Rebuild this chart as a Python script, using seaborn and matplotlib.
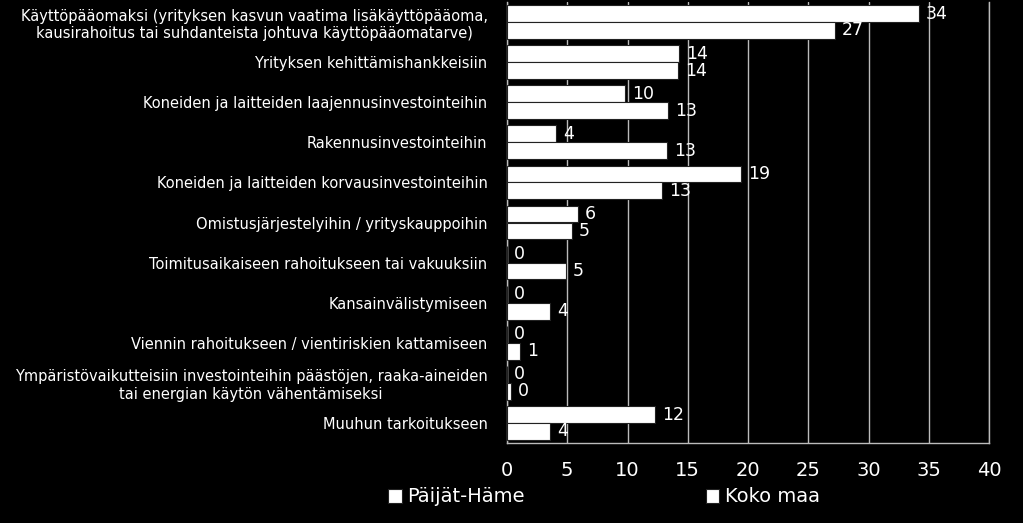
import matplotlib
matplotlib.use("Agg")
import matplotlib.pyplot as plt
import seaborn as sns
import pandas as pd

categories = [
    "Käyttöpääomaksi (yrityksen kasvun vaatima lisäkäyttöpääoma,\nkausirahoitus tai suhdanteista johtuva käyttöpääomatarve)",
    "Yrityksen kehittämishankkeisiin",
    "Koneiden ja laitteiden laajennusinvestointeihin",
    "Rakennusinvestointeihin",
    "Koneiden ja laitteiden korvausinvestointeihin",
    "Omistusjärjestelyihin / yrityskauppoihin",
    "Toimitusaikaiseen rahoitukseen tai vakuuksiin",
    "Kansainvälistymiseen",
    "Viennin rahoitukseen / vientiriskien kattamiseen",
    "Ympäristövaikutteisiin investointeihin päästöjen, raaka-aineiden\ntai energian käytön vähentämiseksi",
    "Muuhun tarkoitukseen",
]
series_names = ["Päijät-Häme", "Koko maa"]
paijat_hame = [34.2, 14.3, 9.8, 4.1, 19.4, 5.9, 0.0, 0.0, 0.0, 0.0, 12.3]
koko_maa = [27.2, 14.2, 13.4, 13.3, 12.9, 5.4, 4.9, 3.6, 1.1, 0.3, 3.6]
xticks = [0, 5, 10, 15, 20, 25, 30, 35, 40]

df = pd.DataFrame({
    "cat": categories * 2,
    "series": [series_names[0]] * len(categories) + [series_names[1]] * len(categories),
    "value": paijat_hame + koko_maa,
})

sns.set_theme(style="dark")
plt.rcParams['font.family'] = ['DejaVu Sans']

fig = plt.figure(figsize=(10.23, 5.23), dpi=100, facecolor="black")
ax = fig.add_axes([507/1023, 1 - 443/523, (989-507)/1023, (443-2)/523])
ax.set_facecolor("black")

sns.barplot(data=df, y="cat", x="value", hue="series", orient="h",
            palette=["white", "white"], edgecolor="#222222", linewidth=0.8,
            width=0.84, saturation=1, ax=ax, zorder=3)

for cont in ax.containers:
    vals = [f"{round(v):d}" for v in cont.datavalues]
    ax.bar_label(cont, labels=vals, padding=5, color="white", fontsize=12.5, zorder=4)

ax.set_xlim(0, 40)
ax.set_ylim(10.5, -0.5)
ax.set_xticks(xticks)
ax.set_xticklabels([str(t) for t in xticks], color="white", fontsize=14)
ax.tick_params(axis="x", length=0, pad=13)
ax.tick_params(axis="y", length=0, pad=14, labelsize=10.5, labelcolor="white")
for lab in ax.get_yticklabels():
    lab.set_horizontalalignment("right")
    lab.set_multialignment("center")
ax.set_xlabel("")
ax.set_ylabel("")
ax.grid(axis="x", color="#bbbbbb", linewidth=1, zorder=0)
ax.grid(axis="y", visible=False)
ax.spines["top"].set_visible(False)
for s in ["left", "bottom", "right"]:
    ax.spines[s].set_visible(True)
    ax.spines[s].set_color("#bbbbbb")
    ax.spines[s].set_linewidth(1)

handles, labels = ax.get_legend_handles_labels()
ax.get_legend().remove()
leg = fig.legend(handles, labels, loc="center", bbox_to_anchor=(604/1023, 1 - 497/523),
                 ncol=2, frameon=False, fontsize=14, labelcolor="white",
                 handlelength=0.7, handleheight=0.7, handletextpad=0.3, columnspacing=9.3)

fig.savefig("out.png", dpi=100, facecolor="black")
